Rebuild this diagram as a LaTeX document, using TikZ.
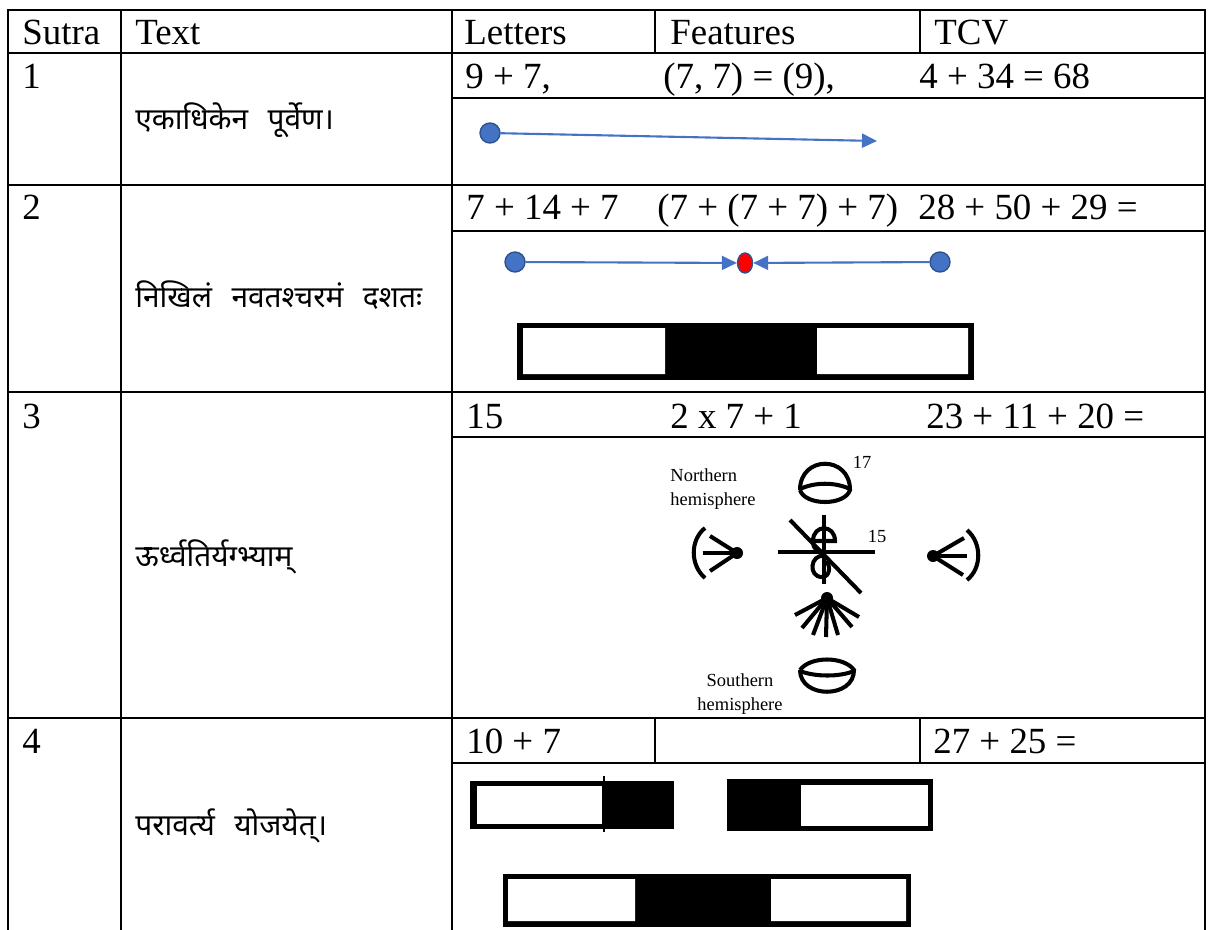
\documentclass[tikz,border=0pt]{standalone}
\usepackage{fontspec}
\setmainfont{Liberation Serif}
\newfontfamily\deva[Script=Devanagari,WordSpace=2.5]{Noto Sans}
\usepackage{tikz}
\usetikzlibrary{%
arrows.meta,
shapes.geometric,
positioning
}
\definecolor{dotblue}{HTML}{4472C4}
\definecolor{dotedge}{HTML}{2F528F}

\begin{document}
\begin{tikzpicture}[x=0.02cm,y=-0.02cm,
    rule/.style={line width=1.4pt,line cap=rect},
    cell/.style={anchor=base west,inner sep=0pt,font=\fontsize{21}{25}\selectfont},
    sutratext/.style={anchor=west,inner sep=0pt,font=\deva\fontsize{17}{20}\selectfont},
    tag/.style={inner sep=0pt,font=\fontsize{10.5}{14}\selectfont},
    bdot/.style={circle,fill=dotblue,draw=dotedge,line width=0.8pt,minimum size=0.4cm,inner sep=0pt},
    rdot/.style={ellipse,fill=red,draw=dotedge,line width=0.8pt,minimum width=0.3cm,minimum height=0.4cm,inner sep=0pt},
    barrow/.style={draw=dotblue,line width=1.2pt,-{Triangle[length=0.3cm,width=0.28cm]}},
    glyph/.style={line width=2.3pt}
]
\useasboundingbox (0,0) rectangle (1209,929);
    % table rules
    \foreach \x in {8,121,452,1205} \draw[rule] (\x,10) -- (\x,935);
    \foreach \y in {10,53,185,392,718} \draw[rule] (8,\y) -- (1205,\y);
    \foreach \y in {98,231,437,763} \draw[rule] (452,\y) -- (1205,\y);
    \foreach \x in {655,920} {
        \draw[rule] (\x,10) -- (\x,53);
        \draw[rule] (\x,718) -- (\x,763);
    }
    % header
    \node[cell] (hsutra) at (22,45) {Sutra};
    \node[cell] (htext) at (135,45) {Text};
    \node[cell] (hletters) at (464,45) {Letters};
    \node[cell] (hfeatures) at (670,45) {Features};
    \node[cell] (htcv) at (934,45) {TCV};
    % sutra numbers and texts
    \node[cell] (n1) at (22,89) {1};
    \node[cell] (n2) at (22,219) {2};
    \node[cell] (n3) at (22,428) {3};
    \node[cell] (n4) at (22,753) {4};
    \node[sutratext] (s1) at (135,120) {एकाधिकेन पूर्वेण।};
    \node[sutratext] (s2) at (135,295) {निखिलं नवतश्चरमं दशतः};
    \node[sutratext] (s3) at (135,557) {ऊर्ध्वतिर्यग्भ्याम्};
    \node[sutratext] (s4) at (135,826) {परावर्त्य योजयेत्।};
    % letters, features, TCV
    \node[cell] (l1) at (465,89) {9 + 7,};
    \node[cell] (f1) at (663,89) {(7, 7) = (9),};
    \node[cell] (t1) at (919,89) {4 + 34 = 68};
    \node[cell] (l2) at (466,219) {7 + 14 + 7};
    \node[cell] (f2) at (657,219) {(7 + (7 + 7) + 7)};
    \node[cell] (t2) at (918,219) {28 + 50 + 29 =};
    \node[cell] (l3) at (466,428) {15};
    \node[cell] (f3) at (670,428) {2 x 7 + 1};
    \node[cell] (t3) at (926,428) {23 + 11 + 20 =};
    \node[cell] (l4) at (466,753) {10 + 7};
    \node[cell] (t4) at (933,753) {27 + 25 =};
    % row 1
    \node[bdot] (a1) at (490,133) {};
    \coordinate (a1end) at (877,141);
    \draw[barrow] (a1) -- (a1end);
    % row 2
    \node[bdot] (b1) at (515,262) {};
    \node[rdot] (bm) at (745,263) {};
    \node[bdot] (b2) at (940,262) {};
    \draw[barrow] (b1) -- (bm);
    \draw[barrow] (b2) -- (bm);
    \fill (517,323) rectangle (974,380);
    \fill[white] (523,328) rectangle (665,374) (817,328) rectangle (968,374);
    % row 3
    \node[tag,align=left] (north) at (713,489) {Northern\\hemisphere};
    \node[tag,align=center] (south) at (740,694) {Southern\\hemisphere};
    \node[tag] (k17) at (862,462) {17};
    \node[tag] (k15) at (877,536) {15};
    % northern dome
    \draw[glyph] (800,490) .. controls (800,455) and (850,455) .. (850,490)
        .. controls (845,506) and (805,506) .. (800,490);
    \draw[glyph] (800,489) .. controls (815,482) and (835,482) .. (850,489);
    % southern bowl
    \draw[glyph] (800,670) .. controls (810,656) and (844,656) .. (854,670)
        .. controls (854,699) and (800,699) .. (800,670);
    \draw[glyph] (800,671) .. controls (815,677) and (840,677) .. (854,671);
    % cross in the middle
    \draw[glyph] (824,515) -- (824,584);
    \draw[glyph] (778,552) -- (875,552);
    \draw[glyph] (790,520) -- (861,593);
    \draw[glyph] (813,541) -- (835,541) .. controls (835,524) and (813,524) .. (813,541)
        .. controls (813,550) and (818,552) .. (824,552);
    \draw[glyph] (824,556) .. controls (810,554) and (808,577) .. (822,577)
        .. controls (830,577) and (831,566) .. (826,561);
    % west and east
    \fill (737,553) circle (6);
    \draw[glyph] (705,528) .. controls (690,540) and (690,565) .. (705,578);
    \foreach \p in {(703,553),(710,536),(710,571)} \draw[glyph] \p -- (737,553);
    \fill (933,556) circle (6);
    \draw[glyph] (967,530) .. controls (982,543) and (982,568) .. (967,580);
    \foreach \p in {(967,556),(964,538),(963,575)} \draw[glyph] \p -- (933,556);
    % fan below
    \fill (827,598) circle (6);
    \foreach \p in {(795,615),(802,628),(813,635),(826,637),(838,635),(852,627),(859,617)}
        \draw[glyph] (827,598) -- \p;
    % row 4
    \fill (470,781) rectangle (674,829);
    \fill[white] (477,786) rectangle (602,824);
    \draw[line width=1.6pt] (604,776) -- (604,832);
    \fill (727,779) rectangle (933,831);
    \fill[white] (801,785) rectangle (928,826);
    \fill (503,874) rectangle (911,927);
    \fill[white] (508,879) rectangle (635,921) (771,879) rectangle (906,921);
\end{tikzpicture}
\end{document}
